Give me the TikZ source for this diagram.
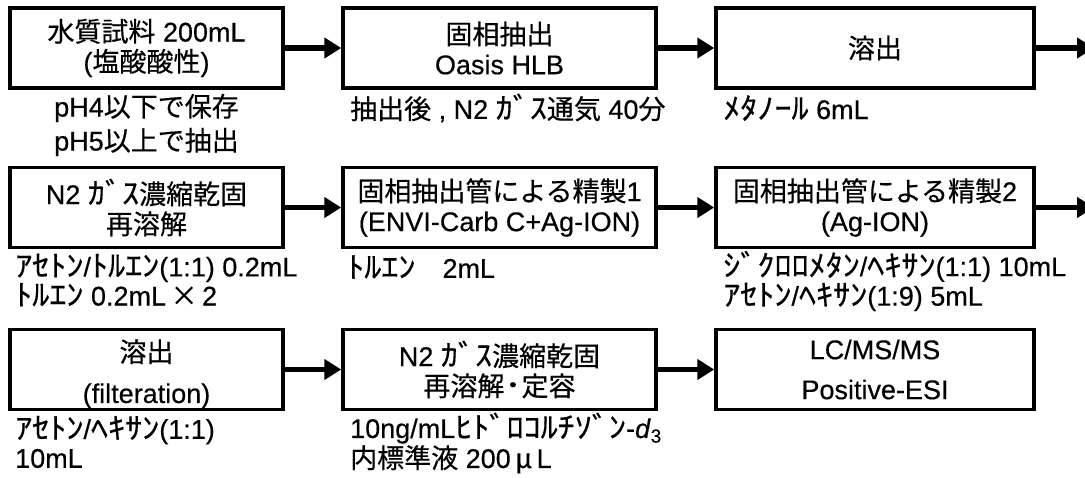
\documentclass[tikz,border=0pt]{standalone}
\usepackage{fontspec}
\setmainfont{Liberation Sans}[FakeBold=0.4]
\newfontfamily\jpfont{Noto Sans CJK JP}[FakeBold=0.4]
\newfontfamily\hkfont{Noto Sans CJK JP}[FakeStretch=1.15,Scale=1.1,FakeBold=0.4]
\newcommand{\J}[1]{{\jpfont #1}}
\newcommand{\K}[1]{{\hkfont #1}}
\usetikzlibrary{arrows.meta}
\begin{document}
\begin{tikzpicture}[x=1pt,y=-1pt,
  box/.style={draw=black,line width=3.5pt,rectangle,minimum height=80pt,inner sep=0pt,align=center,
    font={\fontsize{27}{30}\selectfont}},
  wA/.style={minimum width=273pt},
  wB/.style={minimum width=313pt},
  wC/.style={minimum width=318pt},
  lbl/.style={inner sep=0pt,align=left,anchor=west},
  arr/.style={line width=5.5pt,-{Triangle[length=17pt,width=20pt]}}]
\useasboundingbox (0,0) rectangle (1085,477);
% row 1
\node[box,wA] (a1) at (146.5,48) {\J{水質試料} 200mL\\(\J{塩酸酸性})};
\node[box,wB] (a2) at (499.5,48) {\J{固相抽出}\\Oasis HLB};
\node[box,wC] (a3) at (875,48) {\J{溶出}};
\coordinate (a4) at (1094,48);
% row 2
\node[box,wA] (b1) at (146.5,207.5) {N2 \K{ｶﾞｽ}\J{濃縮乾固}\\\J{再溶解}};
\node[box,wB] (b2) at (499.5,207.5) {\J{固相抽出管による精製}1\\(ENVI-Carb C+Ag-ION)};
\node[box,wC] (b3) at (875,207.5) {\J{固相抽出管による精製}2\\(Ag-ION)};
\coordinate (b4) at (1094,207.5);
% row 3
\node[box,wA,font={\fontsize{27}{41}\selectfont}] (c1) at (146.5,369.5) {\raisebox{-11pt}[0pt][0pt]{\begin{tabular}{@{}c@{}}\J{溶出}\\(filteration)\end{tabular}}};
\node[box,wB] (c2) at (499.5,369.5) {N2 \K{ｶﾞｽ}\J{濃縮乾固}\\\J{再溶解}\K{･}\J{定容}};
\node[box,wC,font={\fontsize{27}{40}\selectfont}] (c3) at (875,369.5) {LC/MS/MS\\Positive-ESI};
% arrows
\draw[arr] (a1) -- (a2);
\draw[arr] (a2) -- (a3);
\draw[arr] (a3) -- (a4);
\draw[arr] (b1) -- (b2);
\draw[arr] (b2) -- (b3);
\draw[arr] (b3) -- (b4);
\draw[arr] (c1) -- (c2);
\draw[arr] (c2) -- (c3);
% labels
\node[inner sep=0pt,align=center,font={\fontsize{27}{34}\selectfont}] (la1) at (146.5,125) {pH4\J{以下で保存}\\pH5\J{以上で抽出}};
\node[lbl,font={\fontsize{27}{30}\selectfont}] (la2) at (350,108) {\J{抽出後} , N2 \K{ｶﾞｽ}\J{通気} 40\J{分}};
\node[lbl,font={\fontsize{27}{30}\selectfont}] (la3) at (723,108) {\K{ﾒﾀﾉｰﾙ} 6mL};
\node[lbl,font={\fontsize{27}{28}\selectfont}] (lb1) at (15,280) {\K{ｱｾﾄﾝ}/\K{ﾄﾙｴﾝ}(1:1) 0.2mL\\\K{ﾄﾙｴﾝ} 0.2mL\,\J{×}\,2};
\node[lbl,font={\fontsize{27}{28}\selectfont}] (lb2) at (347,267) {\K{ﾄﾙｴﾝ}\quad 2mL};
\node[lbl,font={\fontsize{27}{28}\selectfont}] (lb3) at (723,281) {\K{ｼﾞｸﾛﾛﾒﾀﾝ}/\K{ﾍｷｻﾝ}(1:1) 10mL\\\K{ｱｾﾄﾝ}/\K{ﾍｷｻﾝ}(1:9) 5mL};
\node[lbl,font={\fontsize{27}{29}\selectfont}] (lc1) at (15,442) {\K{ｱｾﾄﾝ}/\K{ﾍｷｻﾝ}(1:1)\\10mL};
\node[lbl,font={\fontsize{27}{30}\selectfont}] (lc2) at (350,443) {10ng/mL\K{ﾋﾄﾞﾛｺﾙﾁｿﾞﾝ}-\textit{d}\textsubscript{3}\\\J{内標準液} 200\,\J{μ}\,L};
\end{tikzpicture}
\end{document}
